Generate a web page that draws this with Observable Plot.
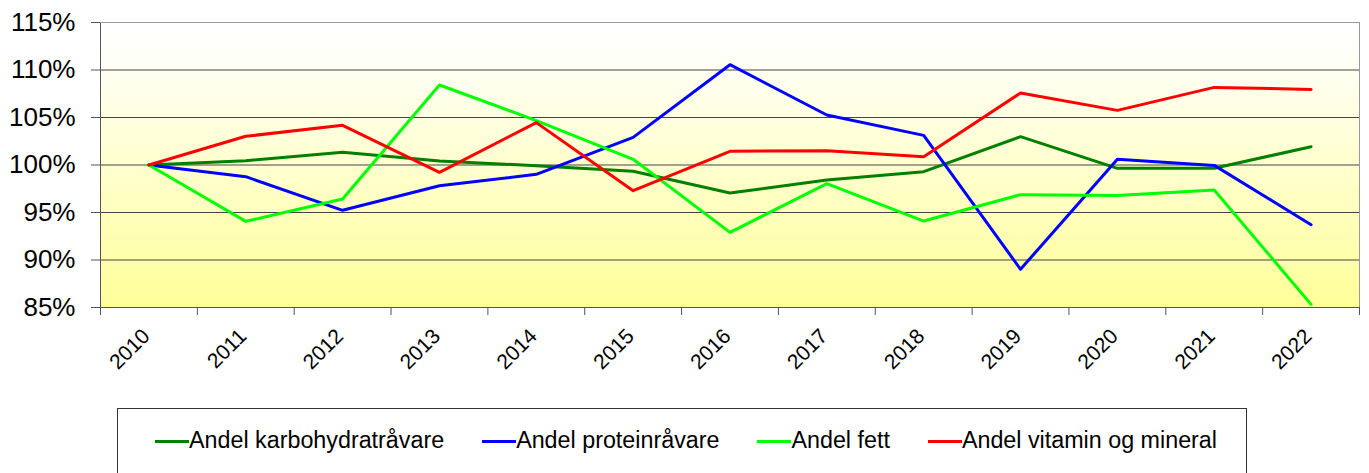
<!DOCTYPE html>
<html><head><meta charset="utf-8">
<script src="https://cdn.jsdelivr.net/npm/d3@7"></script>
<script src="https://cdn.jsdelivr.net/npm/@observablehq/plot@0.6"></script>
<style>
body{margin:0;background:#fff;font-family:"Liberation Sans",Arial,sans-serif;}
#wrap{position:relative;width:1369px;height:473px;overflow:hidden;}
#legend{position:absolute;left:117px;top:408px;width:1130px;height:100px;border:1.5px solid #333;box-sizing:border-box;display:flex;justify-content:flex-start;align-items:flex-start;padding-left:37px;padding-top:18px;gap:38px;font-size:23.3px;color:#000;}
.item{display:flex;align-items:center;white-space:nowrap;}
.sw{width:34px;height:3px;margin-top:2px;}
</style></head><body>
<div id="wrap"><div id="chart"></div><div id="legend"></div></div>
<script>
const years = [2010, 2011, 2012, 2013, 2014, 2015, 2016, 2017, 2018, 2019, 2020, 2021, 2022];
const karbohydrat = [100, 100.45, 101.33, 100.42, 99.93, 99.34, 97.05, 98.42, 99.3, 102.98, 99.65, 99.65, 101.93];
const protein = [100, 98.77, 95.23, 97.82, 99.02, 102.91, 110.56, 105.26, 103.12, 89.02, 100.6, 99.96, 93.72];
const fett = [100, 94.07, 96.42, 108.42, 104.67, 100.6, 92.91, 98.03, 94.1, 96.88, 96.8, 97.37, 85.33];
const vitamin = [100, 103.02, 104.18, 99.23, 104.46, 97.3, 101.44, 101.51, 100.88, 107.58, 105.75, 108.17, 107.96];
const seriesNames = ["Andel karbohydratråvare", "Andel proteinråvare", "Andel fett", "Andel vitamin og mineral"];
const seriesColors = ["#008000", "#0000ff", "#00ff00", "#ff0000"];
const seriesValues = [karbohydrat, protein, fett, vitamin];
const yTicks = [85, 90, 95, 100, 105, 110, 115];

const data = seriesNames.flatMap((name, s) => years.map((year, i) => ({year, value: seriesValues[s][i], name})));
const boundaries = d3.range(years.length + 1).map(i => years[0] - 0.5 + i);

function background(index, scales, values, dims) {
  const ns = "http://www.w3.org/2000/svg";
  const g = document.createElementNS(ns, "g");
  const x0 = scales.x(boundaries[0]), x1 = scales.x(boundaries[boundaries.length - 1]);
  const y0 = scales.y(yTicks[yTicks.length - 1]), y1 = scales.y(yTicks[0]);
  g.innerHTML = `<defs><linearGradient id="bgGrad" x1="0" y1="0" x2="0" y2="1"><stop offset="0" stop-color="#ffffff"/><stop offset="0.1" stop-color="#fffffa"/><stop offset="1" stop-color="#ffff99"/></linearGradient></defs><rect x="${x0}" y="${y0}" width="${x1 - x0}" height="${y1 - y0}" fill="url(#bgGrad)"/>`;
  return g;
}

const chart = Plot.plot({
  width: 1369, height: 400,
  marginLeft: 100, marginRight: 10, marginTop: 22, marginBottom: 93,
  x: {domain: [boundaries[0], boundaries[boundaries.length - 1]]},
  y: {domain: [yTicks[0], yTicks[yTicks.length - 1]]},
  color: {domain: seriesNames, range: seriesColors},
  style: {fontFamily: "'Liberation Sans', Arial, sans-serif", background: "transparent", color: "#000"},
  marks: [
    background,
    Plot.gridY(yTicks, {stroke: "#444", strokeOpacity: 1}),
    Plot.axisY({ticks: yTicks, tickFormat: d => d + "%", tickSize: 9, tickPadding: 16, fontSize: 26, label: null, stroke: "#555"}),
    Plot.axisX({ticks: boundaries, tickSize: 8, tickFormat: () => "", label: null, stroke: "#555"}),
    Plot.text(years, {x: d => d, text: d => String(d), frameAnchor: "bottom", dy: 30, dx: 2, rotate: -45, textAnchor: "end", lineAnchor: "bottom", fontSize: 21, fill: "#000"}),
    Plot.ruleX([boundaries[0]], {stroke: "#555"}),
    Plot.ruleX([boundaries[boundaries.length - 1]], {stroke: "#999"}),
    Plot.ruleY([yTicks[0]], {stroke: "#555"}),
    Plot.ruleY([yTicks[yTicks.length - 1]], {stroke: "#999"}),
    Plot.line(data, {x: "year", y: "value", stroke: "name", z: "name", strokeWidth: 3})
  ]
});
document.getElementById("chart").appendChild(chart);

const legend = document.getElementById("legend");
seriesNames.forEach((name, i) => {
  const item = document.createElement("div");
  item.className = "item";
  const sw = document.createElement("div");
  sw.className = "sw";
  sw.style.background = seriesColors[i];
  const label = document.createElement("span");
  label.textContent = name;
  item.appendChild(sw);
  item.appendChild(label);
  legend.appendChild(item);
});
</script>
</body></html>
